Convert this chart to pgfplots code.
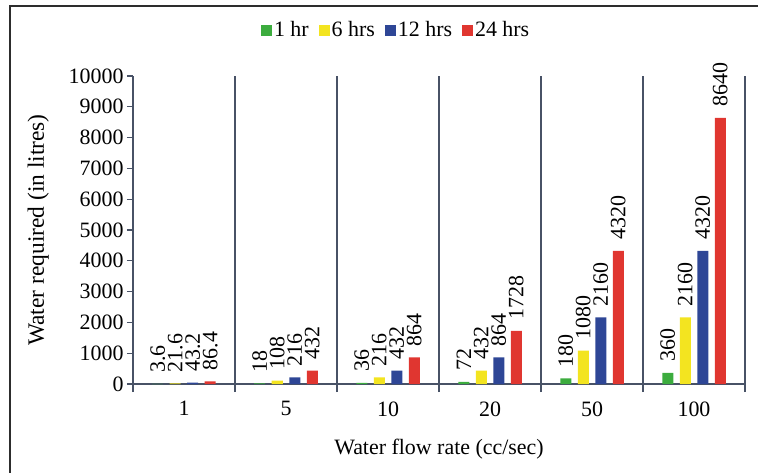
\documentclass[border=0pt]{standalone}
\usepackage{fontspec}
\setmainfont{Liberation Serif}
\usepackage{pgfplots}
\pgfplotsset{compat=1.18}

\definecolor{cgreen}{RGB}{60,172,62}
\definecolor{cyellow}{RGB}{243,228,32}
\definecolor{cblue}{RGB}{46,70,150}
\definecolor{cred}{RGB}{224,54,48}
\definecolor{axisgray}{RGB}{72,82,102}
\definecolor{framegray}{RGB}{45,45,45}

% water needed (litres) per flow rate, for 1, 6, 12, 24 hours
\pgfplotstableread{
x  hr1  hr6   hr12  hr24
0  3.6  21.6  43.2  86.4
1  18   108   216   432
2  36   216   432   864
3  72   432   864   1728
4  180  1080  2160  4320
5  360  2160  4320  8640
}\flowdata

\newcommand{\bigfont}{\fontsize{22}{25}\selectfont}

\begin{document}
\begin{tikzpicture}
\begin{axis}[
  at={(0,0)}, anchor=south west,
  scale only axis, width=612bp, height=308bp,
  ybar=6.5bp, bar width=11bp,
  xmin=-0.5, xmax=5.5, ymin=0, ymax=10000,
  clip=false,
  axis x line=bottom, axis y line=left,
  axis line style={draw=axisgray, line width=1.3bp, -},
  tick align=outside,
  major tick length=6bp,
  xtick={0,1,2,3,4,5},
  xticklabels={1,5,10,20,50,100},
  xtick style={draw=none},
  extra x ticks={-0.5,0.5,1.5,2.5,3.5,4.5,5.5},
  extra x tick labels={},
  extra x tick style={grid=major,
    major grid style={draw=axisgray, line width=1.3bp},
    major tick length=8bp,
    xtick style={draw=axisgray, line width=1.3bp}},
  ytick={0,1000,...,10000},
  ytick style={draw=axisgray, line width=1.3bp},
  scaled y ticks=false,
  /pgf/number format/assume math mode=true,
  yticklabel style={/pgf/number format/1000 sep={}, font=\bigfont},
  xticklabel style={font=\bigfont, yshift=-8bp},
  xlabel={Water flow rate (cc/sec)},
  ylabel={Water required (in litres)},
  xlabel style={at={(axis description cs:0.5,-0.212)}, anchor=center, font=\bigfont},
  ylabel style={at={(axis description cs:-0.155,0.5)}, anchor=center, font=\fontsize{23.5}{26}\selectfont},
  legend style={at={(0.43,1.149)}, anchor=center, legend columns=-1,
    draw=none, fill=none, font=\bigfont,
    /tikz/every even column/.append style={column sep=8bp},
    nodes={inner xsep=2bp}},
  legend image code/.code={\fill[#1] (0bp,-5.5bp) rectangle (11bp,5.5bp);},
  nodes near coords={\pgfmathprintnumber[fixed,precision=1,1000 sep={}]{\pgfplotspointmeta}},
  every node near coord/.append style={rotate=90, anchor=west, inner xsep=11bp, inner ysep=0bp, font=\bigfont, text=black},
]
\addplot[fill=cgreen, draw=none] table[x=x, y=hr1] {\flowdata};
\addplot[fill=cyellow, draw=none] table[x=x, y=hr6] {\flowdata};
\addplot[fill=cblue, draw=none] table[x=x, y=hr12] {\flowdata};
\addplot[fill=cred, draw=none] table[x=x, y=hr24] {\flowdata};
\legend{1 hr, 6 hrs, 12 hrs, 24 hrs}
\end{axis}
\pgfresetboundingbox
\path[use as bounding box] (-133bp,-89bp) rectangle (625bp,384bp);
\draw[framegray, line width=1.5bp] (-123bp,-89bp) -- (-123bp,378bp) -- (625bp,378bp);
\end{tikzpicture}
\end{document}
